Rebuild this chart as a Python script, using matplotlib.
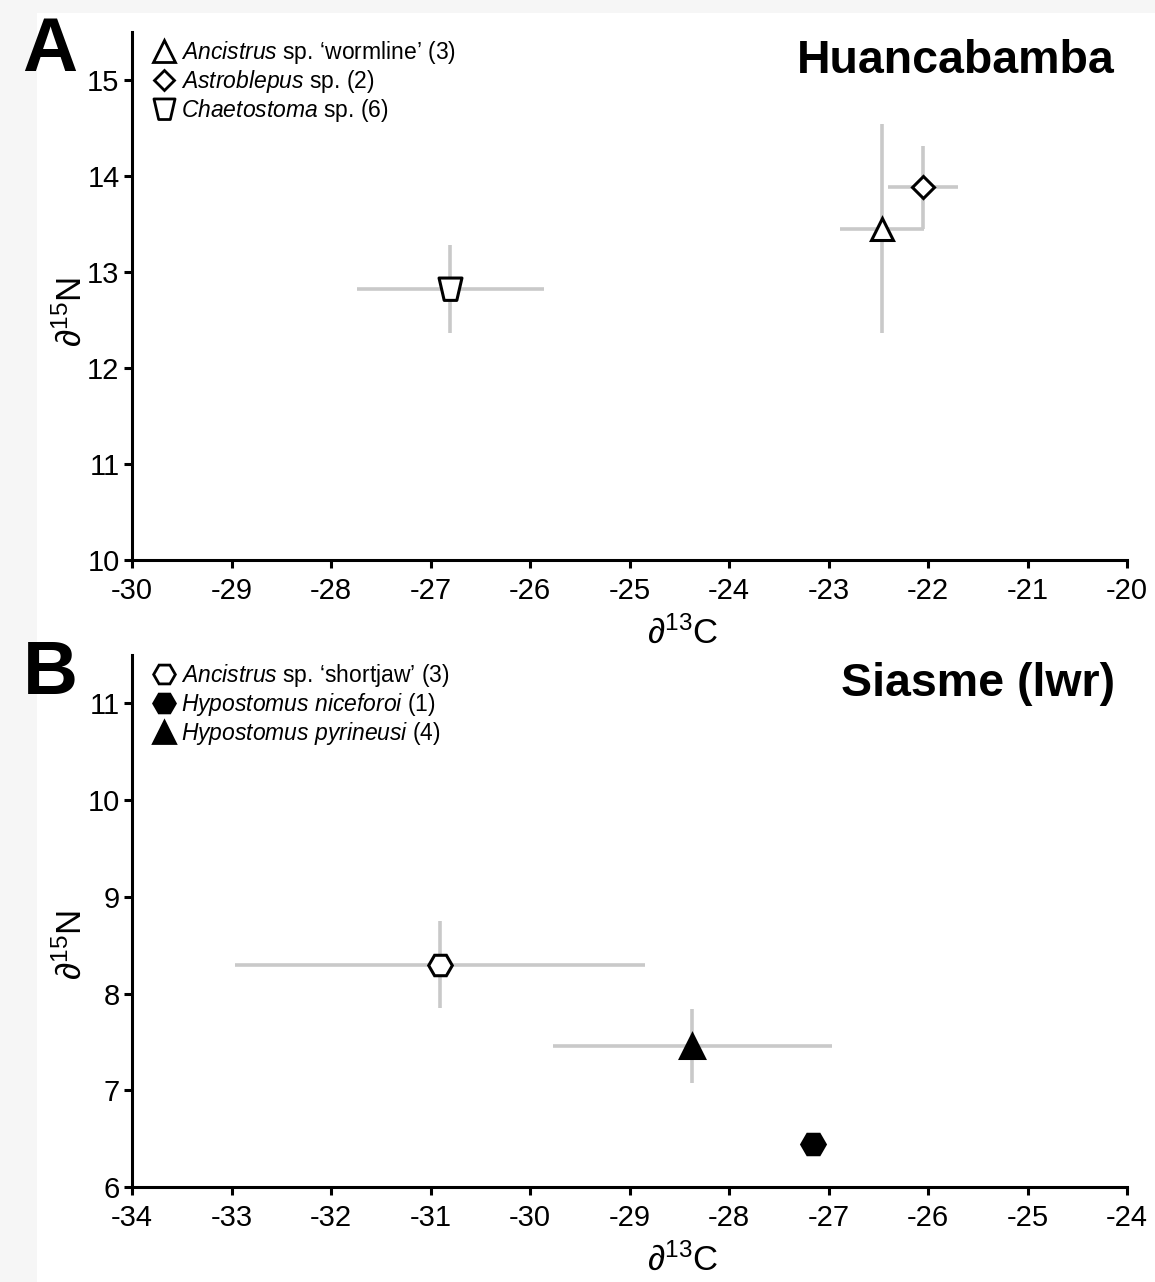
import numpy as np
import matplotlib.pyplot as plt
from matplotlib.path import Path
from matplotlib.lines import Line2D
from matplotlib.patches import Rectangle

plt.rcParams['font.family'] = ['Liberation Sans', 'DejaVu Sans']
plt.rcParams['mathtext.fontset'] = 'custom'
plt.rcParams['mathtext.rm'] = 'Liberation Sans'
plt.rcParams['mathtext.it'] = 'Liberation Sans:italic'
plt.rcParams['mathtext.bf'] = 'Liberation Sans:bold'

# Huancabamba: mean d13C / d15N with SD
a_names = ["$\\it{Ancistrus}$ sp. \u2018wormline\u2019 (3)",
           "$\\it{Astroblepus}$ sp. (2)",
           "$\\it{Chaetostoma}$ sp. (6)"]
a_c13 = [-22.46, -22.05, -26.80]
a_c13_sd = [0.42, 0.35, 0.94]
a_n15 = [13.45, 13.88, 12.82]
a_n15_sd = [1.09, 0.43, 0.46]

# Siasme (lwr)
b_names = ["$\\it{Ancistrus}$ sp. \u2018shortjaw\u2019 (3)",
           "$\\it{Hypostomus\\ niceforoi}$ (1)",
           "$\\it{Hypostomus\\ pyrineusi}$ (4)"]
b_c13 = [-30.90, -27.16, -28.37]
b_c13_sd = [2.06, 0.0, 1.40]
b_n15 = [8.30, 6.44, 7.46]
b_n15_sd = [0.45, 0.0, 0.38]

# inverted trapezoid for Chaetostoma
trap = Path([(-1, 1), (1, 1), (0.55, -0.95), (-0.55, -0.95), (-1, 1)],
            [Path.MOVETO, Path.LINETO, Path.LINETO, Path.LINETO, Path.CLOSEPOLY])

a_style = [dict(marker='^', ms=16.5, mfc='white'),
           dict(marker='D', ms=11.5, mfc='white'),
           dict(marker=trap, ms=16.5, mfc='white')]
b_style = [dict(marker='H', ms=17, mfc='white'),
           dict(marker='H', ms=17, mfc='black'),
           dict(marker='^', ms=17, mfc='black')]

fig = plt.figure(figsize=(11.55, 12.82), dpi=100, facecolor='#f6f6f6')
fig.patches.append(Rectangle((37 / 1155, 0), 1, 1 - 13 / 1282, transform=fig.transFigure,
                             facecolor='white', edgecolor='none', zorder=-10))

axA = fig.add_axes([0.1143, 0.5632, 0.8615, 0.4119])
axB = fig.add_axes([0.1143, 0.0741, 0.8615, 0.4150])

grey = '#c9c9c9'


def panel(ax, xs, xsd, ys, ysd, names, styles, xlim, ylim, title, letter, ylabel_y):
    for x, xe, y, ye in zip(xs, xsd, ys, ysd):
        if xe > 0 or ye > 0:
            ax.errorbar(x, y, xerr=xe, yerr=ye, fmt='none', ecolor=grey,
                        elinewidth=2.6, capsize=0, zorder=2)
    handles = []
    for x, y, st in zip(xs, ys, styles):
        ax.plot(x, y, linestyle='none', mec='black', mew=2.2, zorder=3, **st)
        handles.append(Line2D([], [], linestyle='none', mec='black', mew=2.0,
                              marker=st['marker'], mfc=st['mfc'], ms=st['ms'] * 0.92))
    ax.set_xlim(*xlim)
    ax.set_ylim(*ylim)
    ax.set_xticks(np.arange(xlim[0], xlim[1] + 1, 1))
    ax.set_yticks(np.arange(ylim[0], int(ylim[1]) + 1, 1))
    ax.set_xticklabels([str(int(v)) for v in ax.get_xticks()])
    for s in ['top', 'right']:
        ax.spines[s].set_visible(False)
    for s in ['left', 'bottom']:
        ax.spines[s].set_linewidth(2.2)
    ax.tick_params(direction='out', length=6, width=2.2, labelsize=21)
    ax.tick_params(axis='x', pad=6)
    ax.tick_params(axis='y', pad=3)
    ax.set_xlabel('$\\partial^{13}$C', fontsize=25)
    ax.xaxis.set_label_coords(0.553, -0.105)
    ax.set_ylabel('$\\partial^{15}$N', fontsize=25)
    ax.yaxis.set_label_coords(-0.045, ylabel_y)
    ax.text(0.988, 0.945, title, transform=ax.transAxes, ha='right', va='center',
            fontsize=33.5, fontweight='bold')
    ax.text(-0.11, 0.963, letter, transform=ax.transAxes, ha='left', va='center',
            fontsize=55, fontweight='bold')
    ax.legend(handles, names, loc='upper left', bbox_to_anchor=(0.007, 1.012),
              frameon=False, fontsize=16.5, handletextpad=0.25, labelspacing=0.08,
              borderaxespad=0.2, handlelength=1.0)


panel(axA, a_c13, a_c13_sd, a_n15, a_n15_sd, a_names, a_style,
      (-30, -20), (10, 15.5), 'Huancabamba', 'A', 0.47)
panel(axB, b_c13, b_c13_sd, b_n15, b_n15_sd, b_names, b_style,
      (-34, -24), (6, 11.5), 'Siasme (lwr)', 'B', 0.455)

fig.savefig('out.png', dpi=100, facecolor=fig.get_facecolor())
